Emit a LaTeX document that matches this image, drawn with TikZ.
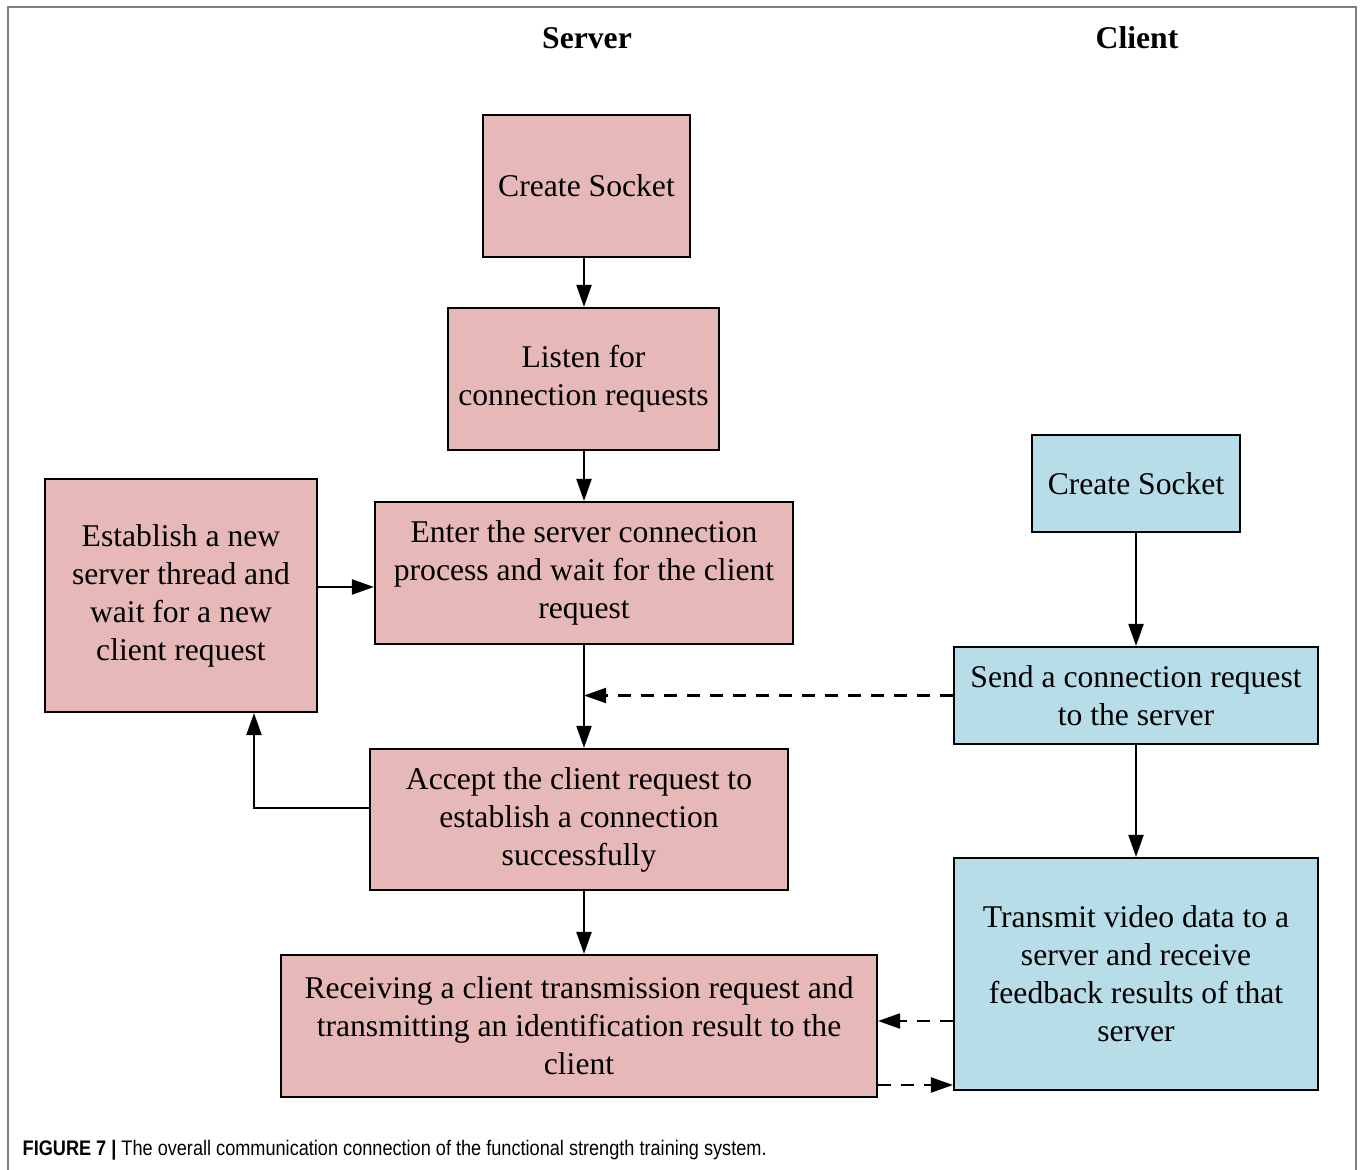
\documentclass[tikz,border=0pt]{standalone}
\usepackage{fontspec}
\setmainfont{Liberation Serif}
\newfontfamily\capfont{Liberation Sans}
\usetikzlibrary{arrows.meta}

\definecolor{srvpink}{HTML}{E6B8B7}
\definecolor{clntblue}{HTML}{B7DDE8}

\tikzset{
	srvbox/.style={draw, fill=srvpink, line width=0.6pt, align=center, inner sep=0pt, font=\fontsize{9}{10.8}\selectfont},
	clntbox/.style={srvbox, fill=clntblue},
	arr/.style={-{Triangle[length=2.2mm,width=1.5mm]}, line width=0.6pt},
	dsh/.style={arr, dash pattern=on 1.3mm off 1mm}
}

\begin{document}
\begin{tikzpicture}
	
	\useasboundingbox (0,0) rectangle (13.6,-11.7);
	\draw [gray, line width=0.8pt] (0.08,-11.7) -- (0.08,-0.07) -- (13.56,-0.07) -- (13.56,-11.7);
	
	\node [font=\fontsize{9}{10.8}\selectfont\bfseries] (hsrv) at (5.87,-0.38) {Server};
	\node [font=\fontsize{9}{10.8}\selectfont\bfseries] (hclnt) at (11.37,-0.38) {Client};
	
	\node [srvbox, minimum width=2.07cm, minimum height=1.42cm] (s1) at (5.865,-1.86) {Create Socket};
	\node [srvbox, minimum width=2.71cm, minimum height=1.42cm] (s2) at (5.835,-3.79) {Listen for\\connection requests};
	\node [srvbox, minimum width=4.18cm, minimum height=1.42cm] (s3) at (5.84,-5.73) {Enter the server connection\\process and wait for the client\\request};
	\node [srvbox, minimum width=2.72cm, minimum height=2.33cm] (s4) at (1.81,-5.955) {Establish a new\\server thread and\\wait for a new\\client request};
	\node [srvbox, minimum width=4.18cm, minimum height=1.41cm] (s5) at (5.79,-8.195) {Accept the client request to\\establish a connection\\successfully};
	\node [srvbox, minimum width=5.96cm, minimum height=1.42cm] (s6) at (5.79,-10.26) {Receiving a client transmission request and\\transmitting an identification result to the\\client};
	
	\node [clntbox, minimum width=2.08cm, minimum height=0.97cm] (c1) at (11.36,-4.835) {Create Socket};
	\node [clntbox, minimum width=3.64cm, minimum height=0.97cm] (c2) at (11.36,-6.955) {Send a connection request\\to the server};
	\node [clntbox, minimum width=3.64cm, minimum height=2.32cm] (c3) at (11.36,-9.74) {Transmit video data to a\\server and receive\\feedback results of that\\server};
	
	\coordinate (m3) at ([yshift=-1.4mm]s3.west);
	\coordinate (m5) at ([yshift=1.15mm]s5.west);
	\coordinate (m6) at ([yshift=0.5mm]s6.east);
	\coordinate (m7) at ([yshift=-5.9mm]s6.east);
	
	\draw [arr] (s1.south -| s3.south) -- (s2.north -| s3.south);
	\draw [arr] (s2.south -| s3.south) -- (s3.north);
	\draw [arr] (m3 -| s4.east) -- (m3);
	\draw [arr] (s3.south) -- (s5.north -| s3.south);
	\draw [arr] (m5) -| ([xshift=7.3mm]s4.south);
	\draw [arr] (s5.south -| s3.south) -- (s6.north -| s3.south);
	
	\draw [arr] (c1) -- (c2);
	\draw [arr] (c2) -- (c3);
	
	\draw [dsh] (c2.west) -- (c2.west -| s3.south);
	\draw [dsh] (m6 -| c3.west) -- (m6);
	\draw [dsh] (m7) -- (m7 -| c3.west);
	
	\node [anchor=west, inner sep=0pt, font=\capfont\fontsize{6}{7}\selectfont] (cap) at (0.22,-11.50) {\scalebox{0.86}[1]{\textbf{FIGURE 7 |} The overall communication connection of the functional strength training system.}};
\end{tikzpicture}
\end{document}
